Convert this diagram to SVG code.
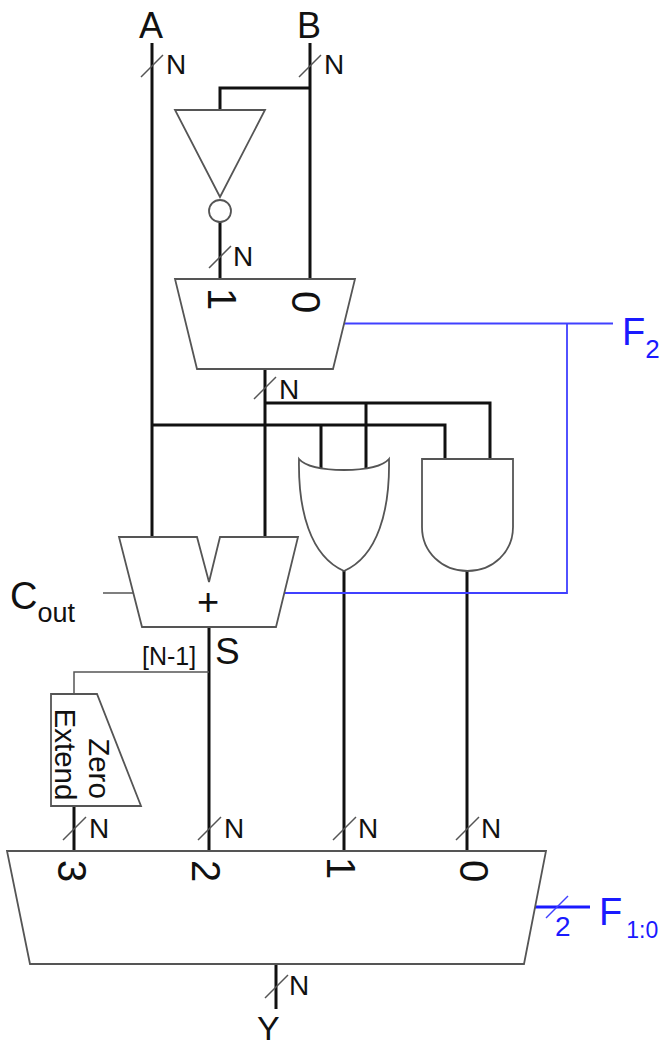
<svg xmlns="http://www.w3.org/2000/svg" width="661" height="1047" viewBox="0 0 661 1047">
<style>
text{font-family:"Liberation Sans",Arial,sans-serif;fill:#111}
.w{fill:none;stroke:#111;stroke-width:3}
.t{fill:none;stroke:#555;stroke-width:1.5}
.s{fill:#fff;stroke:#555;stroke-width:1.8;stroke-linejoin:miter}
.sl{fill:none;stroke:#555;stroke-width:1.5}
.b{fill:none;stroke:#4040ff;stroke-width:1.8}
.n{font-size:28px}
.l{font-size:37px}
.d{font-size:40px;text-anchor:middle}
.e{font-size:29.500px;text-anchor:middle}
text.bt{fill:#1a1aff}
</style>
<rect width="661" height="1047" fill="#fff"/>
<g id="connectors">
<path class="w" d="M152 43V537M310 43V279M310 88H220V110M220 222V279M265 369V537M265 403H490V459M366 403V469M152 425H445V459M321 425V469M344 571V851M467 571V851M209 627V851M74 806V851M276 964V1009"/>
<path class="t" d="M103 593H133M209 672H74V694"/>
<path class="b" d="M344 323.500H613M567 323.500V593H285"/>
<path d="M535 907H590" fill="none" stroke="#1a1aff" stroke-width="3"/>
<path class="sl" d="M141 77L163 55M299 77L321 55M209 268L231 246M254 399L276 377M63 840L86 817M198 840L221 817M333 840L356 817M456 840L479 817M265 998L288 975"/>
<path d="M546 918L568 896" fill="none" stroke="#4040ff" stroke-width="1.500"/>
</g>
<g id="inverter">
<path class="s" d="M175 110H265L220 197Z"/>
<circle class="s" cx="220" cy="211" r="11"/>
</g>
<g id="mux2">
<path class="s" d="M175 279H355L333 369H197Z"/>
<text class="d" transform="translate(208 299) rotate(90)">1</text>
<text class="d" transform="translate(292 302) rotate(90)">0</text>
</g>
<g id="adder">
<path class="s" d="M119 537H197L209 582L220 537H298L276 627H142Z"/>
<text x="208" y="615" font-size="38" text-anchor="middle">+</text>
</g>
<g id="or-gate">
<path class="s" d="M299 459C305 466 322 470 344 470C366 470 383 466 389 459C390 510 378 556 344 571C310 556 298 510 299 459Z"/>
</g>
<g id="and-gate">
<path class="s" d="M422 459H513V527C513 552 493 571 467.500 571C442 571 422 552 422 527Z"/>
</g>
<g id="zero-extend">
<path class="s" d="M51 694H97L141 806H51Z"/>
<text class="e" transform="translate(55 754.500) rotate(90)">Extend</text>
<text class="e" transform="translate(89 768.500) rotate(90)">Zero</text>
</g>
<g id="mux4">
<path class="s" d="M7 851H546L524 964H30Z"/>
<text class="d" transform="translate(58 871) rotate(90)">3</text>
<text class="d" transform="translate(192 871) rotate(90)">2</text>
<text class="d" transform="translate(327 868) rotate(90)">1</text>
<text class="d" transform="translate(460 871) rotate(90)">0</text>
</g>
<g id="labels">
<text x="139" y="38" style="font-size:36px">A</text>
<text x="297" y="38" style="font-size:36px">B</text>
<text class="n" x="166" y="74">N</text>
<text class="n" x="324" y="74">N</text>
<text class="n" x="233" y="266">N</text>
<text class="n" x="279" y="399">N</text>
<text class="n" x="89" y="838">N</text>
<text class="n" x="224" y="838">N</text>
<text class="n" x="358" y="838">N</text>
<text class="n" x="481" y="838">N</text>
<text class="n" x="289" y="995">N</text>
<text x="10" y="609" style="font-size:38px">C<tspan style="font-size:27px" dy="13">out</tspan></text>
<text x="215" y="664" style="font-size:37px">S</text>
<text x="142" y="665" style="font-size:25px">[N-1]</text>
<text x="257" y="1040" style="font-size:34px">Y</text>
<text class="bt" x="622" y="345" style="font-size:38px">F<tspan style="font-size:26px" dy="13">2</tspan></text>
<text class="bt" x="599" y="925" style="font-size:38px">F<tspan style="font-size:23px" dy="13" dx="4">1:0</tspan></text>
<text class="bt" x="555" y="936" style="font-size:28px">2</text>
</g>
</svg>
